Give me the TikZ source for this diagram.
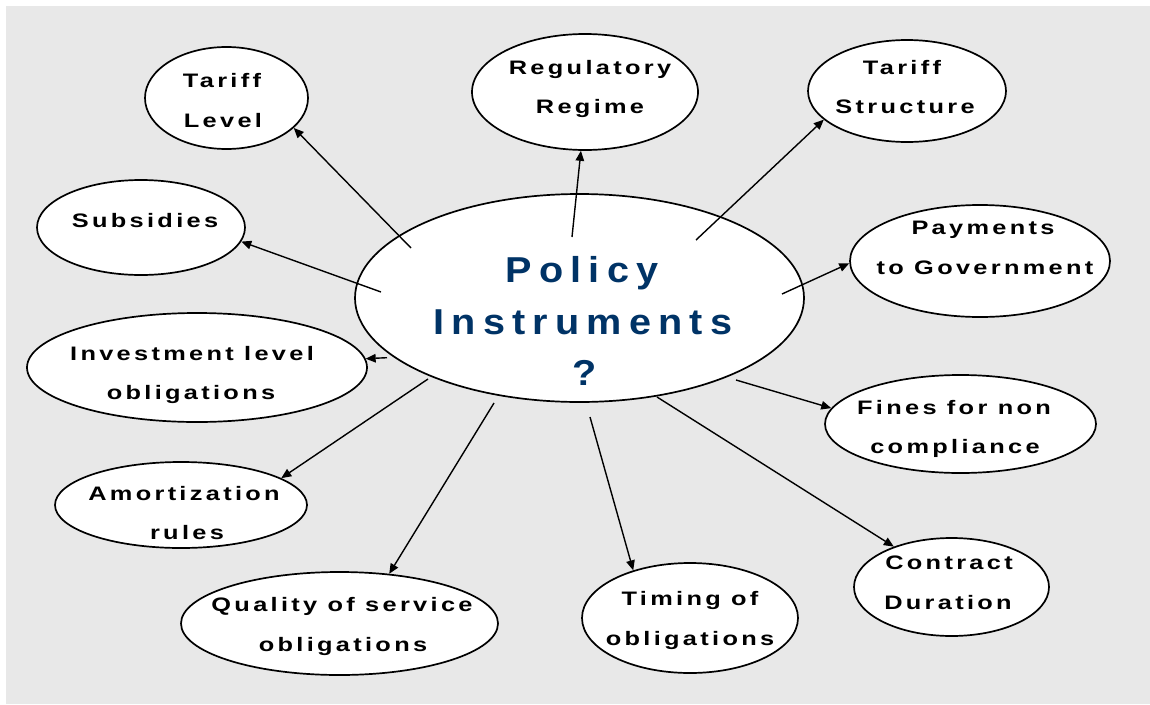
\documentclass[tikz,border=0pt]{standalone}
\usepackage{fontspec}
\usetikzlibrary{arrows.meta,shapes.geometric}
\newfontfamily\satfont[FakeStretch=1.3,LetterSpace=17]{Liberation Sans}
\newfontfamily\cenfont[FakeStretch=1.1,LetterSpace=20]{Liberation Sans}
\definecolor{bggray}{RGB}{232,232,232}
\definecolor{navy}{RGB}{0,51,102}
\tikzset{
  sat/.style={ellipse, draw=black, line width=1.7pt, fill=white, inner sep=0pt},
  lbl/.style={anchor=base, inner sep=0pt, font=\satfont\bfseries\fontsize{19.5}{24}\selectfont},
  clbl/.style={anchor=base, inner sep=0pt, text=navy, font=\cenfont\bfseries\fontsize{36}{40}\selectfont},
  conn/.style={line width=1.4pt, -{Triangle[length=10pt,width=8.5pt]}}
}
\begin{document}
\begin{tikzpicture}[x=1pt,y=-1pt]
\useasboundingbox (0,0) rectangle (1150,704);
\fill[bggray] (6,6) rectangle (1150,704);

% central
\node[sat, minimum width=449pt, minimum height=208pt] (c) at (579.5,298) {};

% satellites
\node[sat, minimum width=163pt, minimum height=102pt] (tl) at (226.5,98) {};
\node[sat, minimum width=226pt, minimum height=116pt] (rr) at (585,92) {};
\node[sat, minimum width=198pt, minimum height=102pt] (ts) at (907,91) {};
\node[sat, minimum width=208pt, minimum height=95pt] (sub) at (141,227.5) {};
\node[sat, minimum width=260pt, minimum height=112pt] (pay) at (980,261) {};
\node[sat, minimum width=340pt, minimum height=109pt] (inv) at (197,367.5) {};
\node[sat, minimum width=271pt, minimum height=98pt] (fin) at (960.5,424) {};
\node[sat, minimum width=252pt, minimum height=86pt] (amo) at (181,505) {};
\node[sat, minimum width=195pt, minimum height=98pt] (con) at (951.5,587) {};
\node[sat, minimum width=317pt, minimum height=103pt] (qua) at (339.5,623.5) {};
\node[sat, minimum width=216pt, minimum height=110pt] (tim) at (690,618) {};

% connector starts inside the central ellipse
\coordinate (s1) at (411,248);
\coordinate (s2) at (572,237);
\coordinate (s3) at (696,240);
\coordinate (s4) at (381,292);
\coordinate (s5) at (782,294);
\coordinate (s6) at (387,357.7);
\coordinate (s7) at (736,380);
\coordinate (s8) at (428,379);
\coordinate (s9) at (657,397);
\coordinate (s10) at (494,403);
\coordinate (s11) at (590,417);

\draw[conn] (s1) -- (tl.-24.8);
\draw[conn] (s2) -- (rr.-94.2);
\draw[conn] (s3) -- (ts.199.9);
\draw[conn] (s4) -- (sub.-8.9);
\draw[conn] (s5) -- (pay.181.8);
\draw[conn] (s6) -- (inv.3.7);
\draw[conn] (s7) -- (fin.173.3);
\draw[conn] (s8) -- (amo.15.8);
\draw[conn] (s9) -- (con.145.7);
\draw[conn] (s10) -- (qua.45.7);
\draw[conn] (s11) -- (tim.140.9);

% labels
\node[clbl] (cA) at (582,282) {Policy};
\node[clbl] (cB) at (583,334) {Instruments};
\node[clbl] (cC) at (585,385) {?};

\node[lbl] (tlA) at (222,87) {Tariff};
\node[lbl] (tlB) at (223,127) {Level};
\node[lbl] (rrA) at (590,74) {Regulatory};
\node[lbl] (rrB) at (590,113) {Regime};
\node[lbl] (tsA) at (902,74) {Tariff};
\node[lbl] (tsB) at (905,113) {Structure};
\node[lbl] (subA) at (145,227) {Subsidies};
\node[lbl] (payA) at (983,234) {Payments};
\node[lbl] (payB) at (985,274) {to Government};
\node[lbl] (invA) at (192,360) {Investment level};
\node[lbl] (invB) at (191,399) {obligations};
\node[lbl] (finA) at (954,414) {Fines for non};
\node[lbl] (finB) at (955,453) {compliance};
\node[lbl] (amoA) at (184,500) {Amortization};
\node[lbl] (amoB) at (187,539) {rules};
\node[lbl] (conA) at (949,569) {Contract};
\node[lbl] (conB) at (948,609) {Duration};
\node[lbl] (quaA) at (342,611) {Quality of service};
\node[lbl] (quaB) at (343,651) {obligations};
\node[lbl] (timA) at (690,605) {Timing of};
\node[lbl] (timB) at (690,645) {obligations};
\end{tikzpicture}
\end{document}
